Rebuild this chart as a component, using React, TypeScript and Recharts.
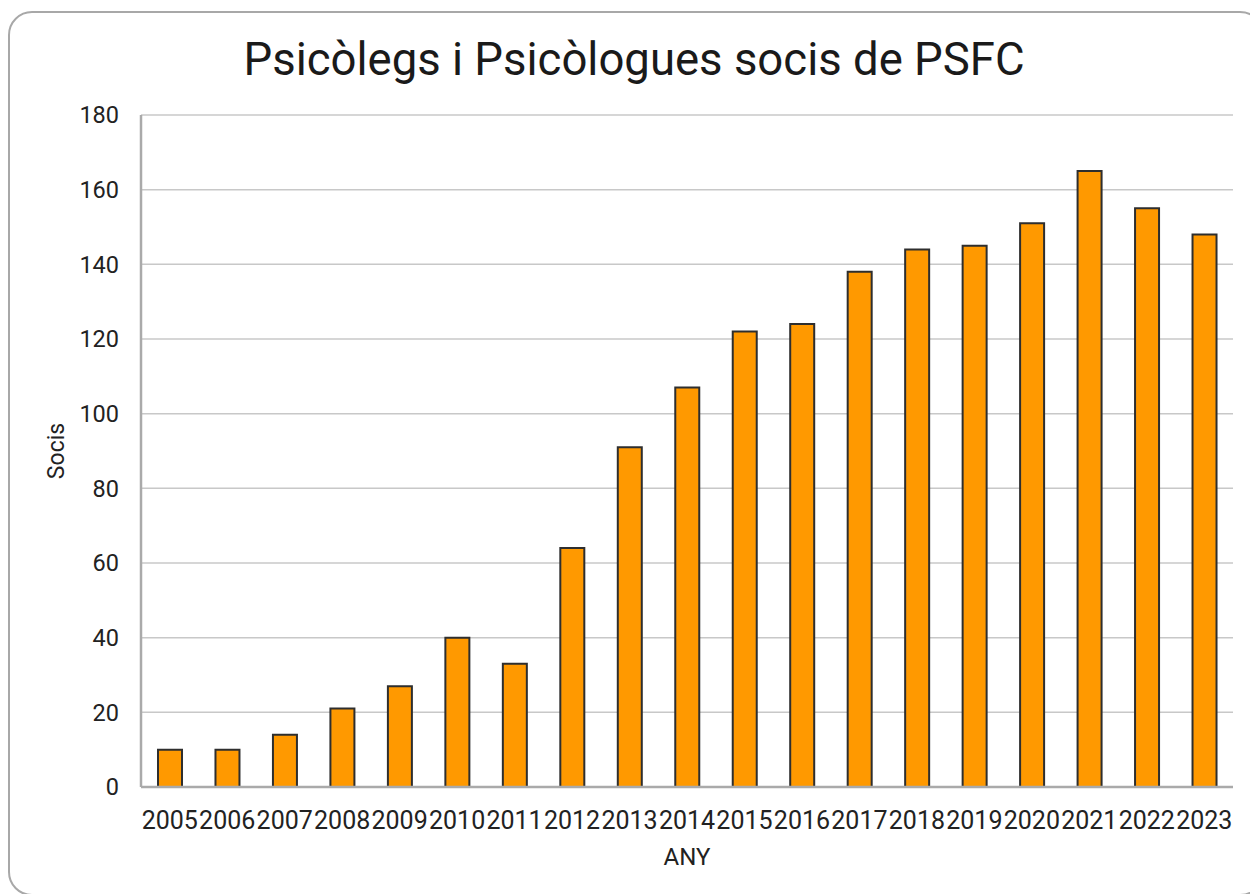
import React from "react";
import { BarChart, Bar, XAxis, YAxis, CartesianGrid } from "recharts";

const years = ["2005","2006","2007","2008","2009","2010","2011","2012","2013","2014","2015","2016","2017","2018","2019","2020","2021","2022","2023"];
const socis = [10,10,14,21,27,40,33,64,91,107,122,124,138,144,145,151,165,155,148];
const yTicks = [0,20,40,60,80,100,120,140,160,180];

const data = years.map((y, i) => ({ any: y, socis: socis[i] }));

const FONT = "Roboto, 'Noto Sans', sans-serif";

export default function App() {
  return (
    <div style={{ position: "fixed", left: 0, top: 0, width: 1250, height: 894, background: "#fff", overflow: "hidden", fontFamily: FONT }}>
      <div style={{ position: "absolute", left: 8, top: 11, width: 1256, height: 885, border: "2px solid #a8a8a8", borderRadius: 24, boxSizing: "border-box" }} />
      <div style={{ position: "absolute", left: 0, top: 30, width: 1268, textAlign: "center", fontSize: 45.5, color: "#1a1a1a", lineHeight: "60px" }}>
        Psicòlegs i Psicòlogues socis de PSFC
      </div>
      <div style={{ position: "absolute", left: 0, top: 0 }}>
        <BarChart width={1250} height={894} data={data} margin={{ top: 115, right: 17, bottom: 27, left: 81 }} barSize={24}>
          <CartesianGrid vertical={false} stroke="#c8c8c8" strokeWidth={1.5} />
          <XAxis
            dataKey="any"
            height={80}
            interval={0}
            tickLine={false}
            axisLine={{ stroke: "#aaaaaa", strokeWidth: 2.5 }}
            tick={{ fontSize: 25, fill: "#222", fontFamily: FONT, dy: 16 }}
            label={{ value: "ANY", position: "insideBottom", offset: 2, fill: "#222", fontFamily: FONT, style: { fontSize: 24 } }}
          />
          <YAxis
            width={60}
            domain={[0, 180]}
            ticks={yTicks}
            interval={0}
            tickLine={false}
            axisLine={{ stroke: "#aaaaaa", strokeWidth: 2.5 }}
            tick={{ fontSize: 23.5, fill: "#222", fontFamily: FONT, dx: -14 }}
            label={{ value: "Socis", angle: -90, position: "insideLeft", offset: -25, fill: "#222", fontFamily: FONT, style: { textAnchor: "middle", fontSize: 23 } }}
          />
          <Bar dataKey="socis" fill="#ff9900" stroke="#2e2e2e" strokeWidth={2} isAnimationActive={false} />
        </BarChart>
      </div>
    </div>
  );
}
